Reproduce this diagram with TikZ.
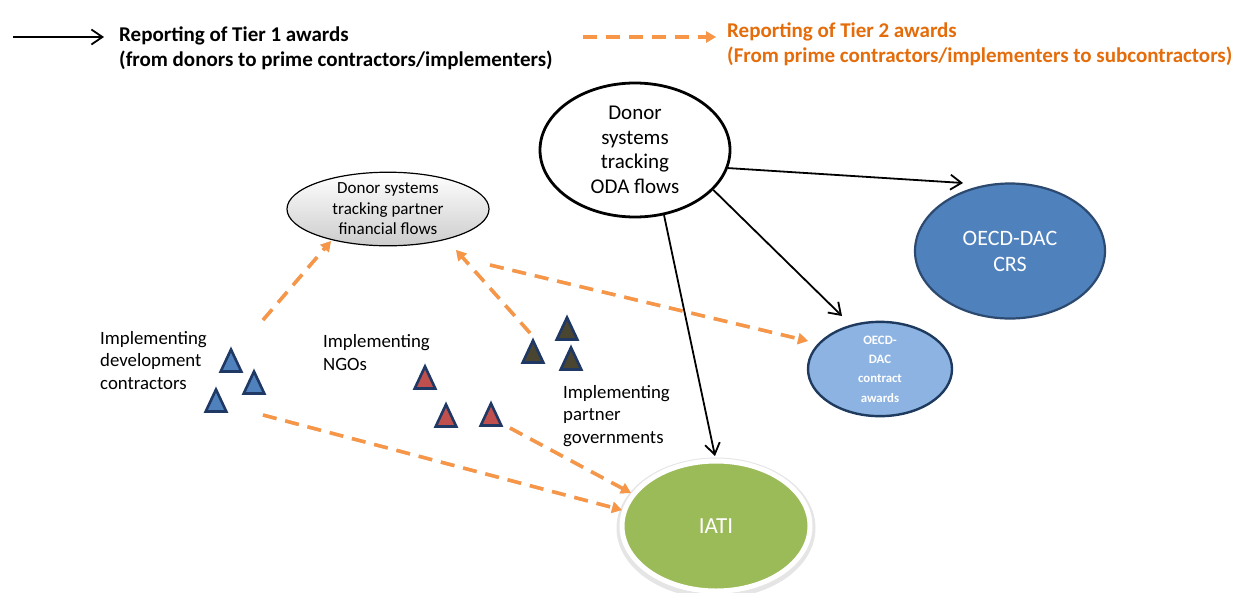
\documentclass[tikz,border=0pt]{standalone}
\usepackage{fontspec}
\setmainfont{Carlito}
\usetikzlibrary{arrows.meta,shapes.geometric}
\definecolor{orng}{HTML}{F79646}
\definecolor{orngtxt}{HTML}{E46C0A}
\definecolor{crsfill}{HTML}{4F81BD}
\definecolor{crsline}{HTML}{2C4A70}
\definecolor{awfill}{HTML}{8DB3E2}
\definecolor{awline}{HTML}{1F3A5F}
\definecolor{iatifill}{HTML}{9BBB59}
\definecolor{navy}{HTML}{1F3864}
\definecolor{tblue}{HTML}{4F81BD}
\definecolor{tred}{HTML}{C0504D}
\definecolor{tolive}{HTML}{4A4530}
\begin{document}
\begin{tikzpicture}[x=1pt,y=-1pt,
  tierone/.style={draw=black,line width=1.8pt,-{Straight Barb[length=11pt,width=15pt,line width=1.8pt]}},
  tiertwo/.style={draw=orng,line width=3.5pt,dash pattern=on 14pt off 9pt,-{Triangle[length=10pt,width=11pt]}},
  tiershadow/.style={draw=gray!35,line width=3.5pt,dash pattern=on 14pt off 9pt,-{Triangle[length=10pt,width=11pt]},shift={(1.2,2.2)}},
  pics/tri/.style={code={\draw[navy,line width=2.6pt,fill=#1,line join=miter] (-10.3,9.5) -- (10.3,9.5) -- (0,-12.5) -- cycle;}},
  lbl/.style={font=\fontsize{18.8}{22.5}\selectfont,align=left,anchor=base west,inner sep=0pt},
  leg/.style={font=\bfseries\fontsize{21}{25}\selectfont,align=left,anchor=base west,inner sep=0pt},
  ell/.style={ellipse,inner sep=0pt,align=center}
]
\useasboundingbox (0,0) rectangle (1233,592);
% legend
\coordinate (l1a) at (13,37); \coordinate (l1b) at (104,37);
\draw[tierone] (l1a) -- (l1b);
\node[leg] (leg1) at (119,66) {Reporting of Tier 1 awards\\(from donors to prime contractors/implementers)};
\coordinate (l2a) at (583,37); \coordinate (l2b) at (716,37);
\draw[tiershadow] (l2a) -- (l2b);
\draw[tiertwo] (l2a) -- (l2b);
\node[leg,text=orngtxt] (leg2) at (727,62) {Reporting of Tier 2 awards\\(From prime contractors/implementers to subcontractors)};
% ellipses
\node[ell,draw=black,line width=2.8pt,fill=white,minimum width=190pt,minimum height=134pt,font=\fontsize{21}{24.5}\selectfont] (oda) at (635,150) {Donor\\systems\\tracking\\ODA flows};
\node[ell,draw=crsline,line width=2.2pt,fill=crsfill,minimum width=190pt,minimum height=135pt,text=white,font=\fontsize{22}{26}\selectfont] (crs) at (1010,251) {OECD-DAC\\CRS};
\node[ell,draw=awline,line width=2.4pt,fill=awfill,minimum width=144pt,minimum height=88pt,text=white,font=\bfseries\fontsize{12.8}{19.4}\selectfont] (aw) at (880,369) {OECD-\\DAC\\contract\\awards};
\node[ell,draw=gray!20,line width=5pt,minimum width=194pt,minimum height=136pt] (iatish) at (716,528) {};
\node[ell,draw=white,line width=5pt,fill=iatifill,minimum width=188pt,minimum height=130pt,text=white,font=\fontsize{23}{26}\selectfont] (iati) at (716,526) {IATI};
\node[ell,draw=black,line width=1.2pt,top color=white,bottom color=gray!40,minimum width=202pt,minimum height=72pt,font=\fontsize{17}{20.5}\selectfont] (dsp) at (388,209) {Donor systems\\tracking partner\\financial flows};
% triangles
\pic (b1) at (231,362) {tri=tblue};
\pic (b2) at (254,384) {tri=tblue};
\pic (b3) at (216,402) {tri=tblue};
\pic (r1) at (425,379) {tri=tred};
\pic (r2) at (446,417) {tri=tred};
\pic (r3) at (491,416) {tri=tred};
\pic (o1) at (567,330) {tri=tolive};
\pic (o2) at (533,353) {tri=tolive};
\pic (o3) at (571,360) {tri=tolive};
% labels
\node[lbl] (tcon) at (100,389) {Implementing\\development\\contractors};
\node[lbl] (tngo) at (323,370) {Implementing\\NGOs};
\node[lbl] (tgov) at (563,443) {Implementing\\partner\\governments};
% tier 1 arrows
\coordinate (e1) at (963,183);
\coordinate (e2) at (842,316);
\coordinate (e3) at (715,456);
\draw[tierone] (oda.-11) -- (e1);
\draw[tierone] (oda.-27) -- (e2);
\draw[tierone] (oda.-66) -- (e3);
% tier 2 arrows
\coordinate (c1) at (263,320); \coordinate (d1) at (331,241);
\coordinate (c2) at (530,333); \coordinate (d2) at (456,250);
\coordinate (c3) at (490,265); \coordinate (d3) at (808,341);
\coordinate (c4) at (263,415); \coordinate (d4) at (622,510);
\coordinate (c5) at (510,428); \coordinate (d5) at (631,493);
\foreach \a/\b in {c1/d1,c2/d2,c3/d3,c4/d4,c5/d5}{
  \draw[tiershadow] (\a) -- (\b);
  \draw[tiertwo] (\a) -- (\b);
}
\end{tikzpicture}
\end{document}
